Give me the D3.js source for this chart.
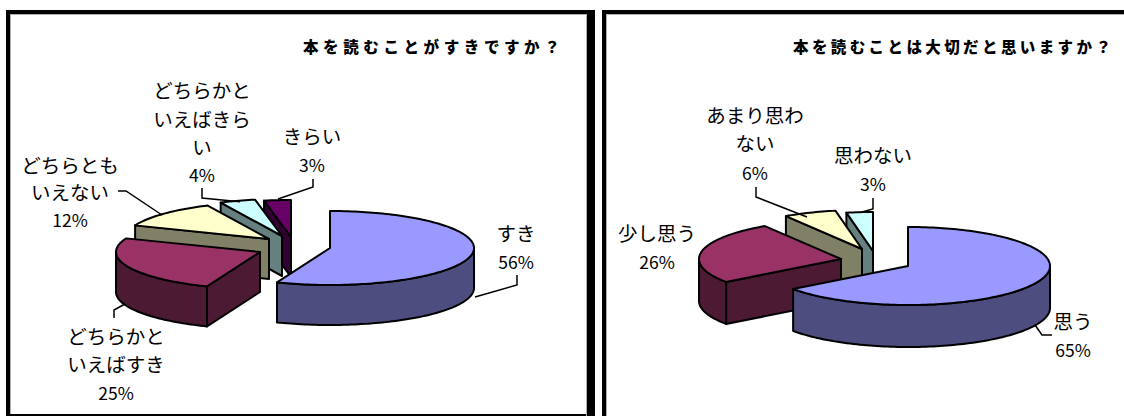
<!DOCTYPE html>
<html lang="ja">
<head>
<meta charset="utf-8">
<title>読書アンケート</title>
<script src="https://cdn.jsdelivr.net/npm/d3@7/dist/d3.min.js"></script>
<style>
  html, body { margin: 0; padding: 0; background: #fff; }
  svg { display: block; }
  text { font-family: "Noto Sans CJK JP", "Noto Sans", sans-serif; fill: #000; }
</style>
</head>
<body>
<svg id="chart" width="1124" height="416"></svg>
<script>
// Survey answers, in percent, clockwise from twelve o'clock.
const likeCategories = [["すき"], ["どちらかと", "いえばすき"], ["どちらとも", "いえない"], ["どちらかと", "いえばきら", "い"], ["きらい"]];
const likeValues = [56, 25, 12, 4, 3];
const likeTitle = "本を読むことがすきですか？";

const importantCategories = [["思う"], ["少し思う"], ["あまり思わ", "ない"], ["思わない"]];
const importantValues = [65, 26, 6, 3];
const importantTitle = "本を読むことは大切だと思いますか？";

// Slice colours: [top face, side face].
const sliceColors = [
  ["#9999ff", "#4d4d80"],
  ["#993366", "#4d1a33"],
  ["#ffffcc", "#808066"],
  ["#ccffff", "#668080"],
  ["#660066", "#330033"]
];
const rightColors = sliceColors.slice(0, 4);

const svg = d3.select("#chart");

// Panel frames: heavy black edges with a thin grey rule just inside them.
function drawFrame(x0, y0, x1, y1, opts) {
  const g = svg.append("g");
  const rect = (x, y, w, h, fill) => g.append("rect")
    .attr("x", x).attr("y", y).attr("width", w).attr("height", h).attr("fill", fill);
  rect(x0 + 4, y0 + 4, 1, y1 - y0 - 4, "#b0b0b0");
  rect(x0 + 4, y0 + 4, x1 - x0 - 4, 1, "#b0b0b0");
  rect(x0, y0, x1 - x0, 4, "#000");
  rect(x0, y0, 4, y1 - y0, "#000");
  if (opts.bottom) rect(x0, y1 - opts.bottom, x1 - x0, opts.bottom, "#000");
  if (opts.right) {
    rect(x1 - opts.right - 1, y0 + 4, 1, y1 - y0 - 4, "#b0b0b0");
    rect(x1 - opts.right, y0 + 1, opts.right, y1 - y0 - 1, "#000");
  }
}

drawFrame(6, 10, 595, 416, { bottom: 2, right: 8 });
drawFrame(602, 10, 1124, 416, {});

const TAU = Math.PI * 2;

// Exploded tilted pie: each slice is an extruded elliptical wedge.
function drawPie(cfg) {
  const pie = d3.pie().sort(null).value(d => d).startAngle(0).endAngle(TAU);
  const arcs = pie(cfg.values);
  const x = d3.scaleLinear().domain([-1, 1]).range([-cfg.rx, cfg.rx]);
  const y = d3.scaleLinear().domain([-1, 1]).range([-cfg.ry, cfg.ry]);
  const line = d3.line();
  const g = svg.append("g");

  // Painted back to front; the largest slice sits nearest the viewer.
  arcs.map((a, i) => ({ a, i })).reverse().forEach(({ a, i }) => {
    const ox = cfg.center[0] + cfg.offsets[i][0];
    const oy = cfg.center[1] + cfg.offsets[i][1];
    const pt = t => [ox + x(Math.sin(t)), oy + y(-Math.cos(t))];
    const down = p => [p[0], p[1] + cfg.depth];
    const sample = (t0, t1) => {
      const n = Math.max(2, Math.ceil(Math.abs(t1 - t0) * 40));
      return d3.range(n + 1).map(k => pt(t0 + (t1 - t0) * k / n));
    };
    const [topColor, sideColor] = cfg.colors[i];
    const paint = (pts, fill) => g.append("path")
      .attr("d", line(pts) + "Z")
      .attr("fill", fill)
      .attr("stroke", "#000")
      .attr("stroke-width", cfg.stroke)
      .attr("stroke-linejoin", "round");

    // Cut faces that turn towards the viewer.
    if (Math.sin(a.startAngle) < -1e-6) {
      const e = pt(a.startAngle);
      paint([[ox, oy], e, down(e), [ox, oy + cfg.depth]], sideColor);
    }
    if (Math.sin(a.endAngle) > 1e-6) {
      const e = pt(a.endAngle);
      paint([[ox, oy], e, down(e), [ox, oy + cfg.depth]], sideColor);
    }
    // Outer wall, only on the front half of the ellipse.
    const w0 = Math.max(a.startAngle, TAU / 4);
    const w1 = Math.min(a.endAngle, TAU * 3 / 4);
    if (w1 > w0) {
      const rim = sample(w0, w1);
      paint(rim.concat(rim.slice().reverse().map(down)), sideColor);
    }
    // Top face.
    paint([[ox, oy]].concat(sample(a.startAngle, a.endAngle)), topColor);
  });

  // Leader lines.
  cfg.leaders.forEach(pts => {
    g.append("path").attr("d", line(pts)).attr("fill", "none")
      .attr("stroke", "#000").attr("stroke-width", 1.5);
  });

  // Category name lines followed by the percentage.
  cfg.categories.forEach((lines, i) => {
    const [cx, ys] = cfg.labelAnchors[i];
    const all = lines.concat(cfg.values[i] + "%");
    all.forEach((s, k) => {
      const isValue = k === all.length - 1;
      g.append("text")
        .attr("x", cx)
        .attr("y", ys[k])
        .attr("text-anchor", "middle")
        .attr("dominant-baseline", "central")
        .attr("font-size", isValue ? 17.5 : 19.5)
        .attr("font-weight", 400)
        .text(s);
    });
  });

  // Heading, widely tracked.
  g.append("text")
    .attr("x", cfg.titleX)
    .attr("y", cfg.titleY)
    .attr("dominant-baseline", "central")
    .attr("font-size", 15.5)
    .attr("font-weight", 900)
    .attr("letter-spacing", cfg.titleSpacing)
    .text(cfg.title);
}

drawPie({
  values: likeValues,
  categories: likeCategories,
  colors: sliceColors,
  title: likeTitle,
  titleX: 303, titleY: 46, titleSpacing: 4.6,
  center: [330, 248], rx: 144, ry: 37, depth: 40, stroke: 2,
  offsets: [[0, 0], [-70, 4], [-61, -9], [-48, -12], [-39, -11]],
  labelAnchors: [
    [516, [232, 261]],
    [116, [335, 363, 392]],
    [70, [164, 191, 219]],
    [202, [89, 118, 146, 174]],
    [312, [135, 164]]
  ],
  leaders: [
    [[517, 275], [517, 285], [475, 297]],
    [[114, 318], [114, 310], [125, 304]],
    [[118, 191], [126, 191], [162, 215]],
    [[202, 188], [202, 198], [240, 201.7]],
    [[313, 179], [313, 187], [278, 199]]
  ]
});

drawPie({
  values: importantValues,
  categories: importantCategories,
  colors: rightColors,
  title: importantTitle,
  titleX: 793, titleY: 46, titleSpacing: 3.4,
  center: [908, 266], rx: 142, ry: 39, depth: 42, stroke: 2,
  offsets: [[0, 0], [-67, -7], [-46, -17], [-35, -15]],
  labelAnchors: [
    [1073, [320, 349]],
    [657, [232, 261]],
    [755, [114, 142, 172]],
    [873, [154, 183]]
  ],
  leaders: [
    [[1052, 335], [1042, 335], [1035, 325]],
    [[756, 187], [756, 197], [807, 217]],
    [[873, 198], [873, 209], [862, 212]]
  ]
});
</script>
</body>
</html>
